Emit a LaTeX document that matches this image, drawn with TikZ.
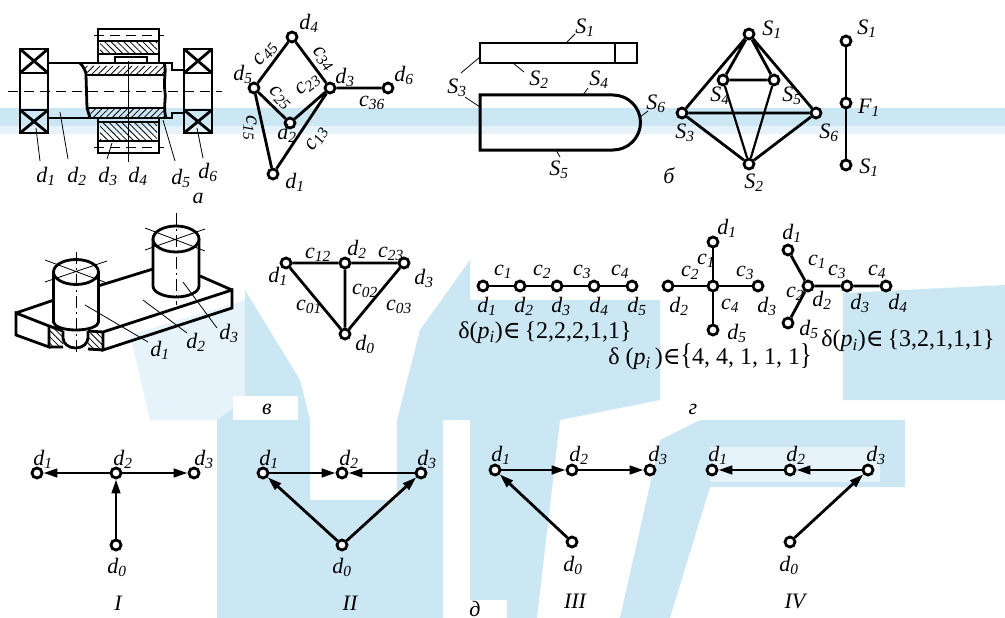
\documentclass[tikz,border=0pt]{standalone}
\usepackage{fontspec}
\setmainfont{Liberation Serif}
\newfontfamily\symf{DejaVu Serif}
\usetikzlibrary{arrows.meta,patterns.meta}
\newcommand\ix[2]{\textit{#1}\textsubscript{\textit{#2}}}
\definecolor{wm}{RGB}{204,231,244}
\definecolor{wmlt}{RGB}{230,243,250}
\begin{document}
\begin{tikzpicture}[x=1pt,y=-1pt,
  vtx/.style={circle,draw,fill=white,line width=2.8pt,minimum size=10pt,inner sep=0pt},
  edge/.style={line width=2.8pt},
  arr/.style={line width=2.8pt,-{Triangle[length=14pt,width=8.5pt]}},
  lbl/.style={font=\fontsize{22}{26}\selectfont,inner sep=0pt},
  ttl/.style={font=\fontsize{22}{26}\selectfont\itshape,inner sep=0pt},
  lead/.style={line width=0.8pt},
  bold/.style={line width=2.8pt},
  hatchA/.style={pattern={Lines[angle=45,distance=4.5pt,line width=0.8pt]}},
  hatchB/.style={pattern={Lines[angle=-45,distance=4.5pt,line width=0.8pt]}},
  cline/.style={line width=0.8pt,dash pattern=on 12pt off 4pt on 2pt off 4pt},
  dline/.style={line width=0.8pt,dash pattern=on 10pt off 6pt}]
\useasboundingbox (0,0) rectangle (1005,618);
\fill[white] (0,0) rectangle (1005,618);

% ---------- background emblem ----------
\fill[wm] (0,108) rectangle (1005,126);
\fill[wmlt] (0,126) rectangle (1005,134);
\fill[wmlt] (130,335) -- (245,300) -- (245,420) -- (150,420) -- cycle;
\fill[wm] (245,290) -- (300,380) -- (310,420) -- (310,618) -- (217,618) -- (217,420) -- (245,400) -- cycle;
\fill[wm] (420,330) -- (470,260) -- (470,420) -- (397,420) -- cycle;
\fill[wm] (397,420) -- (443,420) -- (443,618) -- (397,618) -- cycle;
\fill[wm] (310,500) -- (397,500) -- (397,618) -- (310,618) -- cycle;
\fill[wm] (470,300) -- (660,300) -- (660,400) -- (560,420) -- (537,618) -- (470,618) -- cycle;
\fill[wm] (620,618) -- (660,440) -- (700,420) -- (905,420) -- (905,487) -- (710,487) -- (670,618) -- cycle;
\fill[wmlt] (710,447) -- (880,447) -- (880,482) -- (710,482) -- cycle;
\fill[wm] (843,293) -- (1005,285) -- (1005,400) -- (843,400) -- cycle;

% ---------- a: shaft assembly ----------
\foreach \bx in {20,184}{
  \draw[bold] (\bx,49) rectangle ++(28,84);
  \draw[bold] (\bx,73) -- ++(28,0) (\bx,110) -- ++(28,0);
  \draw[bold] (\bx,49) -- ++(28,24) (\bx+28,49) -- ++(-28,24);
  \draw[bold] (\bx,110) -- ++(28,23) (\bx+28,110) -- ++(-28,23);
}
\fill[hatchA] (84,66) -- (165,66) -- (165,75) -- (86,75) -- cycle;
\fill[hatchA] (88,108) -- (165,108) -- (167,117) -- (90,117) -- cycle;
\fill[hatchB] (100,42) rectangle (157,54);
\fill[hatchB] (100,122) rectangle (157,141);
\draw[bold] (48,63) -- (172,63) -- (172,70) -- (184,70);
\draw[bold] (48,118) -- (172,118) -- (172,113) -- (184,113);
\draw[bold] (80,63) .. controls (84,67) and (86,72) .. (86,75) -- (87,108) -- (90,118);
\draw[bold] (164,63) .. controls (167,70) and (163,80) .. (165,92) .. controls (166,100) and (163,108) .. (166,118);
\draw[bold] (86,75) -- (165,75) (87,108) -- (165,108);
\draw[bold] (98,63) -- (98,29) -- (159,29) -- (159,63);
\draw[bold] (98,118) -- (98,153) -- (159,153) -- (159,118);
\draw[bold] (98,41) -- (159,41) (98,54) -- (159,54);
\draw[bold] (98,122) -- (159,122) (98,141) -- (159,141);
\draw[bold] (115,63) -- (115,57) -- (147,57) -- (147,63);
\draw[dline] (94,35) -- (164,35) (94,147) -- (164,147);
\draw[dline] (8,91) -- (222,91);
\draw[lead] (36,128) -- (40,161);
\draw[lead] (60,112) -- (68,159);
\draw[lead] (112,143) -- (107,159);
\draw[lead] (128,61) -- (128,162);
\draw[lead] (163,120) -- (175,161);
\draw[lead] (197,128) -- (203,158);
\node[lbl] (ad1) at (46,176) {\ix d1};
\node[lbl] (ad2) at (77,176) {\ix d2};
\node[lbl] (ad3) at (108,176) {\ix d3};
\node[lbl] (ad4) at (138,176) {\ix d4};
\node[lbl] (ad5) at (181,178) {\ix d5};
\node[lbl] (ad6) at (208,172) {\ix d6};
\node[ttl] (ta) at (198,198) {а};

% ---------- a: connection graph ----------
\node[vtx] (a4) at (292,37) {};
\node[vtx] (a5) at (254,88) {};
\node[vtx] (a3) at (330,88) {};
\node[vtx] (a2) at (290,123) {};
\node[vtx] (a1) at (273,174) {};
\node[vtx] (a6) at (388,88) {};
\draw[edge] (a4) -- (a5) (a4) -- (a3) (a5) -- (a2) (a3) -- (a2)
            (a5) -- (a1) (a3) -- (a1) (a3) -- (a6);
\node[lbl] at (309,23) {\ix d4};
\node[lbl] at (243,74) {\ix d5};
\node[lbl] at (345,77) {\ix d3};
\node[lbl] at (404,75) {\ix d6};
\node[lbl] at (287,133) {\ix d2};
\node[lbl] at (295,182) {\ix d1};
\node[lbl,rotate=52] at (266,54) {\textit{c}\textsubscript{\textit{45}}};
\node[lbl,rotate=-50] at (323,59) {\textit{c}\textsubscript{\textit{34}}};
\node[lbl,rotate=-45] at (280,98) {\textit{c}\textsubscript{\textit{25}}};
\node[lbl,rotate=38] at (308,85) {\textit{c}\textsubscript{\textit{23}}};
\node[lbl] at (372,103) {\textit{c}\textsubscript{\textit{36}}};
\node[lbl,rotate=-90] at (250,128) {\textit{c}\textsubscript{\textit{15}}};
\node[lbl,rotate=58] at (317,139) {\textit{c}\textsubscript{\textit{13}}};

% ---------- б: key and surfaces ----------
\draw[bold] (480,43) rectangle (637,63);
\draw[bold] (615,43) -- (615,63);
\draw[line width=3pt] (613,95) -- (480,95) -- (480,150) -- (613,150)
   arc[start angle=90,end angle=-90,radius=27.5];
\draw[lead] (567,42) -- (575,34);
\draw[lead] (513,63) -- (524,72);
\draw[lead] (461,73) -- (480,57);
\draw[lead] (465,97) -- (480,107);
\draw[lead] (583,95) -- (588,88);
\draw[lead] (640,117) -- (648,111);
\draw[lead] (556,150) -- (560,157);
\node[lbl] at (585,28) {\ix S1};
\node[lbl] at (539,80) {\ix S2};
\node[lbl] at (457,88) {\ix S3};
\node[lbl] at (599,80) {\ix S4};
\node[lbl] at (559,170) {\ix S5};
\node[lbl] at (656,104) {\ix S6};
\node[ttl] (tb) at (669,176) {б};

% ---------- б: surface graph ----------
\node[vtx] (o1) at (749,34) {};
\node[vtx] (o4) at (723,80) {};
\node[vtx] (o5) at (774,80) {};
\node[vtx] (o3) at (682,113) {};
\node[vtx] (o6) at (816,113) {};
\node[vtx] (o2) at (749,164) {};
\draw[edge] (o1) -- (o3) (o1) -- (o6) (o1) -- (o4) (o1) -- (o5) (o4) -- (o5)
            (o3) -- (o6) (o3) -- (o2) (o6) -- (o2);
\draw[line width=2.2pt] (o4) -- (o2) (o5) -- (o2);
\node[lbl] at (772,30) {\ix S1};
\node[lbl] at (720,96) {\ix S4};
\node[lbl] at (792,96) {\ix S5};
\node[lbl] at (685,133) {\ix S3};
\node[lbl] at (829,133) {\ix S6};
\node[lbl] at (754,183) {\ix S2};
\node[vtx] (f1) at (846,41) {};
\node[vtx] (fF) at (846,103) {};
\node[vtx] (f2) at (846,165) {};
\draw[edge] (f1) -- (fF) -- (f2);
\node[lbl] at (867,29) {\ix S1};
\node[lbl] at (869,108) {\ix F1};
\node[lbl] at (869,168) {\ix S1};

% ---------- в: base with two pins ----------
\draw[bold] (16,313) -- (49,326) -- (49,347) -- (16,335) -- cycle;
\fill[hatchB] (49,326) -- (63,331) -- (63,347) -- (49,347) -- cycle;
\fill[hatchB] (88,331) -- (103,332) -- (103,350) -- (88,349) -- cycle;
\draw[bold] (49,326) -- (63,331);
\draw[bold] (88,331) -- (103,332) -- (232,290) -- (232,308) -- (103,350) -- (103,332);
\draw[bold] (49,347) -- (63,347) (88,349) -- (103,350);
\draw[bold] (200,276) -- (232,290);
\draw[bold] (16,313) -- (54,300) (98,286) -- (153,269);
\draw[bold] (63,331) -- (63,338) arc[start angle=180,end angle=0,x radius=12.5,y radius=10] -- (88,331);
\draw[bold,fill=white] (53.5,272) -- (53.5,322) arc[start angle=180,end angle=0,x radius=22.5,y radius=8] -- (98.5,272);
\draw[bold,fill=white] (76,272) ellipse[x radius=22.5,y radius=12.5];
\draw[bold,fill=white] (153,239) -- (153,286) arc[start angle=180,end angle=0,x radius=23,y radius=11] -- (199,239);
\draw[bold,fill=white] (176,239) ellipse[x radius=23,y radius=13];
\draw[cline] (76,252) -- (76,352);
\draw[lead] (45,260) -- (107,283) (45,282) -- (107,261);
\draw[cline] (176,213) -- (176,305);
\draw[lead] (145,228) -- (205,251) (145,250) -- (205,229);
\draw[lead] (85,305) -- (148,342);
\draw[lead] (143,300) -- (187,333);
\draw[lead] (183,282) -- (217,328);
\node[lbl] at (160,350) {\ix d1};
\node[lbl] at (196,342) {\ix d2};
\node[lbl] at (229,333) {\ix d3};

% ---------- в: graph ----------
\node[vtx] (b1) at (286,263) {};
\node[vtx] (b2) at (345,263) {};
\node[vtx] (b3) at (404,263) {};
\node[vtx] (b0) at (345,334) {};
\draw[edge] (b1) -- (b2) -- (b3) (b1) -- (b0) (b2) -- (b0) (b3) -- (b0);
\node[lbl] at (318,255) {\textit{c}\textsubscript{\textit{12}}};
\node[lbl] at (357,249) {\ix d2};
\node[lbl] at (391,254) {\textit{c}\textsubscript{\textit{23}}};
\node[lbl] at (278,276) {\ix d1};
\node[lbl] at (424,278) {\ix d3};
\node[lbl] at (365,291) {\textit{c}\textsubscript{\textit{02}}};
\node[lbl] at (309,307) {\textit{c}\textsubscript{\textit{01}}};
\node[lbl] at (399,307) {\textit{c}\textsubscript{\textit{03}}};
\node[lbl] at (365,344) {\ix d0};
\fill[white] (233,396) rectangle (298,420);
\node[ttl] (tv) at (267,409) {в};

% ---------- г: degree examples ----------
\node[vtx] (p1) at (483,286) {};
\node[vtx] (p2) at (520,286) {};
\node[vtx] (p3) at (557,286) {};
\node[vtx] (p4) at (594,286) {};
\node[vtx] (p5) at (632,286) {};
\draw[edge] (p1) -- (p2) -- (p3) -- (p4) -- (p5);
\node[lbl] at (503,272) {\ix c1};
\node[lbl] at (542,272) {\ix c2};
\node[lbl] at (582,272) {\ix c3};
\node[lbl] at (620,272) {\ix c4};
\node[lbl] at (487,306) {\ix d1};
\node[lbl] at (524,306) {\ix d2};
\node[lbl] at (561,306) {\ix d3};
\node[lbl] at (599,306) {\ix d4};
\node[lbl] at (637,306) {\ix d5};
\node[font=\fontsize{24}{28}\selectfont,inner sep=0pt] (g1) at (545,333)
  {δ(\textit{p}\textsubscript{\textit{i}}){\symf ∈}\,\{2,2,2,1,1\}};

\node[vtx] (s0) at (713,286) {};
\node[vtx] (s1) at (713,242) {};
\node[vtx] (s2) at (668,286) {};
\node[vtx] (s3) at (758,286) {};
\node[vtx] (s5) at (713,330) {};
\draw[edge] (s0) -- (s1) (s0) -- (s2) (s0) -- (s3) (s0) -- (s5);
\node[lbl] at (727,228) {\ix d1};
\node[lbl] at (706,261) {\ix c1};
\node[lbl] at (690,273) {\ix c2};
\node[lbl] at (745,273) {\ix c3};
\node[lbl] at (730,306) {\ix c4};
\node[lbl] at (679,306) {\ix d2};
\node[lbl] at (767,306) {\ix d3};
\node[lbl] at (737,333) {\ix d5};
\node[font=\fontsize{24}{28}\selectfont,inner sep=0pt] (g2) at (710,357)
  {δ (\textit{p}\textsubscript{\textit{i}}\,){\symf ∈}\scalebox{1}[1.25]{\{}4, 4, 1, 1, 1\scalebox{1}[1.25]{\}}};

\node[vtx] (q2) at (808,286) {};
\node[vtx] (q1) at (788,250) {};
\node[vtx] (q5) at (788,323) {};
\node[vtx] (q3) at (847,286) {};
\node[vtx] (q4) at (886,286) {};
\draw[edge] (q2) -- (q1) (q2) -- (q5) (q2) -- (q3) -- (q4);
\node[lbl] at (792,233) {\ix d1};
\node[lbl] at (817,262) {\ix c1};
\node[lbl] at (837,272) {\ix c3};
\node[lbl] at (877,272) {\ix c4};
\node[lbl] at (795,294) {\ix c2};
\node[lbl] at (822,300) {\ix d2};
\node[lbl] at (860,303) {\ix d3};
\node[lbl] at (898,303) {\ix d4};
\node[lbl] at (809,329) {\ix d5};
\node[font=\fontsize{24}{28}\selectfont,inner sep=0pt] (g3) at (908,341)
  {δ(\textit{p}\textsubscript{\textit{i}}){\symf ∈}\,\{3,2,1,1,1\}};
\node[ttl] (tg) at (693,409) {г};

% ---------- д: oriented graphs ----------
\node[vtx] (e1) at (37,473) {};
\node[vtx] (e2) at (116,473) {};
\node[vtx] (e3) at (194,473) {};
\node[vtx] (e0) at (116,545) {};
\draw[arr] (e2) -- (e1);
\draw[arr] (e2) -- (e3);
\draw[arr] (e0) -- (e2);
\node[lbl] at (43,459) {\ix d1};
\node[lbl] at (123,459) {\ix d2};
\node[lbl] at (204,459) {\ix d3};
\node[lbl] at (117,567) {\ix d0};
\node[ttl] at (118,603) {I};
\node[vtx] (h1) at (263,473) {};
\node[vtx] (h2) at (342,473) {};
\node[vtx] (h3) at (421,473) {};
\node[vtx] (h0) at (342,545) {};
\draw[arr] (h1) -- (h2);
\draw[arr] (h3) -- (h2);
\draw[arr] (h0) -- (h1);
\draw[arr] (h0) -- (h3);
\node[lbl] at (269,459) {\ix d1};
\node[lbl] at (349,459) {\ix d2};
\node[lbl] at (427,459) {\ix d3};
\node[lbl] at (342,567) {\ix d0};
\node[ttl] at (350,603) {II};
\node[vtx] (k1) at (495,470) {};
\node[vtx] (k2) at (572,470) {};
\node[vtx] (k3) at (650,470) {};
\node[vtx] (k0) at (572,542) {};
\draw[arr] (k1) -- (k2);
\draw[arr] (k2) -- (k3);
\draw[arr] (k0) -- (k1);
\node[lbl] at (501,455) {\ix d1};
\node[lbl] at (579,455) {\ix d2};
\node[lbl] at (658,455) {\ix d3};
\node[lbl] at (573,565) {\ix d0};
\node[ttl] at (575,601) {III};
\node[vtx] (m1) at (712,470) {};
\node[vtx] (m2) at (790,470) {};
\node[vtx] (m3) at (868,470) {};
\node[vtx] (m0) at (790,542) {};
\draw[arr] (m2) -- (m1);
\draw[arr] (m3) -- (m2);
\draw[arr] (m0) -- (m3);
\node[lbl] at (718,455) {\ix d1};
\node[lbl] at (796,455) {\ix d2};
\node[lbl] at (876,455) {\ix d3};
\node[lbl] at (789,565) {\ix d0};
\node[ttl] at (795,601) {IV};
\fill[white] (443,600) rectangle (507,618);
\node[ttl] (td) at (475,609) {д};
\end{tikzpicture}
\end{document}
